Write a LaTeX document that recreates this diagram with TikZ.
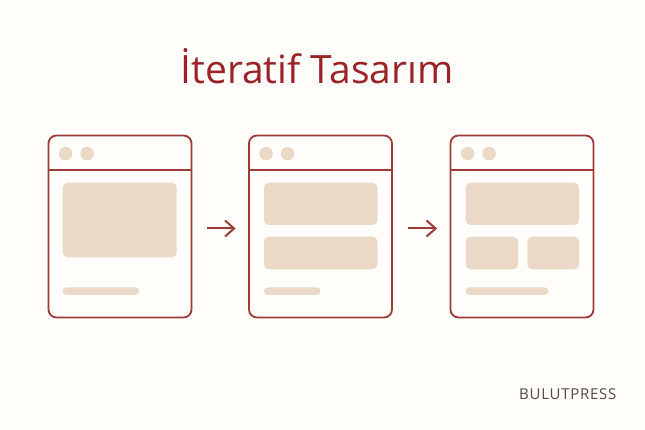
\documentclass[tikz,border=0pt]{standalone}
\usepackage{fontspec}
\setmainfont{Open Sans}
\usetikzlibrary{arrows.meta}
\definecolor{bgc}{HTML}{FEFDFA}
\definecolor{redc}{HTML}{9B2226}
\definecolor{framec}{HTML}{9E3A38}
\definecolor{beige}{HTML}{EBD9C8}
\definecolor{greyc}{HTML}{554848}
\tikzset{
  win/.style={draw=framec, line width=1.8pt, rounded corners=8pt, minimum width=143pt, minimum height=182pt, inner sep=0pt, fill=bgc},
  blockbox/.style={fill=beige, rounded corners=5pt},
  barbox/.style={fill=beige, rounded corners=3.8pt},
  dotc/.style={fill=beige, circle, minimum size=13.5pt, inner sep=0pt},
  flow/.style={draw=framec, line width=2pt, -{Straight Barb[length=9pt,width=16pt,line width=2pt]}, shorten <=15pt, shorten >=12.5pt}
}
\begin{document}
\begin{tikzpicture}[x=1pt,y=-1pt]
\useasboundingbox (0,0) rectangle (645,430);
\fill[bgc] (0,0) rectangle (645,430);
\node[text=redc, font=\fontsize{39}{47}\selectfont, anchor=base] (title) at (317,84) {İteratif Tasarım};
% windows
\node[win] (w1) at (120,226.5) {};
\node[win] (w2) at (320.5,226.5) {};
\node[win] (w3) at (522,226.5) {};
\foreach \w in {w1,w2,w3}{
  \draw[framec, line width=1.8pt] ([yshift=-35.5pt]\w.north west) -- ([yshift=-35.5pt]\w.north east);
  \node[dotc] (\w d1) at ([xshift=18pt,yshift=-19pt]\w.north west) {};
  \node[dotc] (\w d2) at ([xshift=39.5pt,yshift=-19pt]\w.north west) {};
}
% window 1 content
\fill[blockbox] (62.7,182.7) rectangle (176.7,257.3);
\fill[barbox] (62.7,287.3) rectangle (139,295);
% window 2 content
\fill[blockbox] (264,182.7) rectangle (377.5,225);
\fill[blockbox] (264,236.7) rectangle (377.5,269.3);
\fill[barbox] (264,287.3) rectangle (320.5,295);
% window 3 content
\fill[blockbox] (465.7,182.7) rectangle (579,225);
\fill[blockbox] (465.7,236.7) rectangle (518,269.3);
\fill[blockbox] (527.3,236.7) rectangle (579,269.3);
\fill[barbox] (465.7,287.3) rectangle (548.3,295);
% arrows
\draw[flow] (w1.east |- 0,228.5) coordinate (a1s) -- (w2.west |- 0,228.5) coordinate (a1e);
\draw[flow] (w2.east |- 0,228.5) coordinate (a2s) -- (w3.west |- 0,228.5) coordinate (a2e);
% footer
\node[text=greyc, font=\fontsize{15}{18}\selectfont, anchor=base east] (brand) at (620,399) {\addfontfeature{LetterSpace=5}BULUTPRESS};
\end{tikzpicture}
\end{document}
